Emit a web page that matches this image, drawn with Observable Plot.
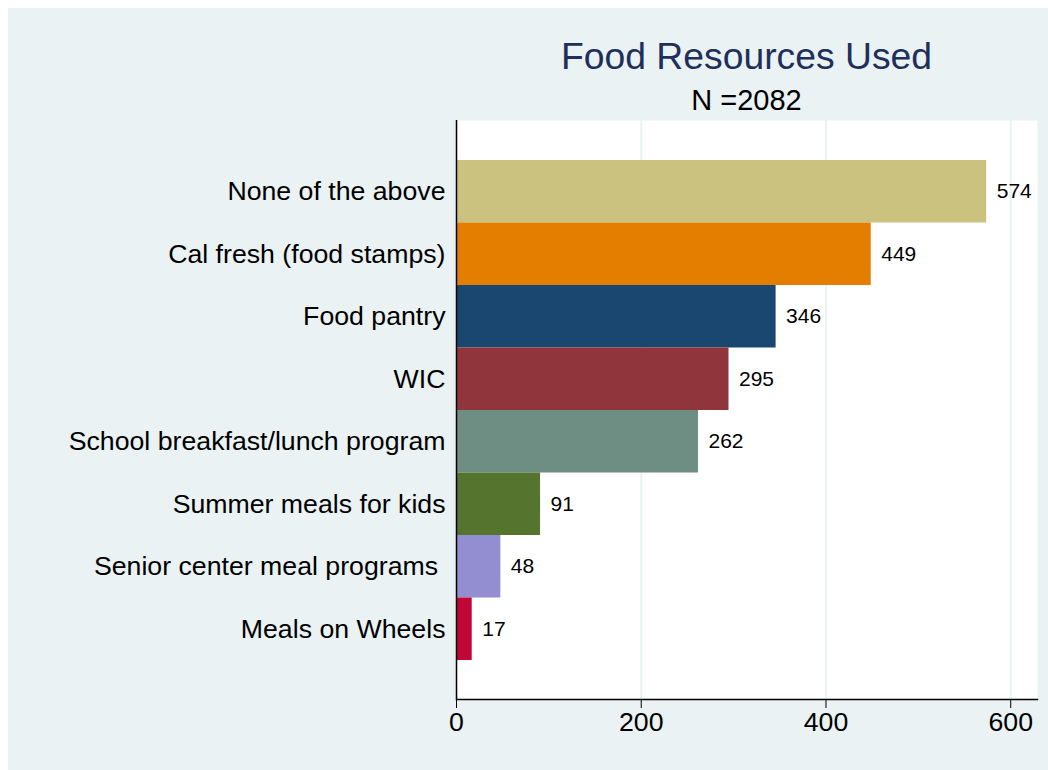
<!DOCTYPE html>
<html>
<head>
<meta charset="utf-8">
<script src="https://cdn.jsdelivr.net/npm/d3@7"></script>
<script src="https://cdn.jsdelivr.net/npm/@observablehq/plot@0.6"></script>
<style>
  html, body { margin: 0; padding: 0; background: #ffffff; }
  body { font-family: "Liberation Sans", Arial, Helvetica, sans-serif; }
  #page { position: relative; width: 1048px; height: 770px; background: #ffffff; overflow: hidden; }
  #bg { position: absolute; left: 8px; top: 8px; width: 1040px; height: 762px; background: #EAF2F3; }
  .ttl { position: absolute; left: 456px; width: 581px; text-align: center; line-height: 1; white-space: nowrap; }
  #title { top: 38px; font-size: 37.3px; color: #1F2F5C; }
  #subtitle { top: 86px; font-size: 29px; color: #000000; }
  #chart { position: absolute; left: 0; top: 120px; }
  #chart svg text { white-space: pre; }
</style>
</head>
<body>
<div id="page">
  <div id="bg"></div>
  <div id="title" class="ttl">Food Resources Used</div>
  <div id="subtitle" class="ttl">N =2082</div>
  <div id="chart"></div>
</div>
<script>
const categories = [
  "None of the above",
  "Cal fresh (food stamps)",
  "Food pantry",
  "WIC",
  "School breakfast/lunch program",
  "Summer meals for kids",
  "Senior center meal programs ",
  "Meals on Wheels"
];
const counts = [574, 449, 346, 295, 262, 91, 48, 17];
const barColors = ["#CAC27E", "#E37E00", "#1A476F", "#90353B", "#6E8E84", "#55752F", "#938DD2", "#C10534"];
const xTicks = [0, 200, 400, 600];

const data = categories.map((c, i) => ({category: c, value: counts[i]}));

const chart = Plot.plot({
  width: 1048,
  height: 650,
  marginTop: 0,
  marginBottom: 71,
  marginLeft: 456,
  marginRight: 11,
  style: {background: "transparent", overflow: "visible", fontFamily: "'Liberation Sans', Arial, Helvetica, sans-serif", color: "#000"},
  x: {domain: [0, 629], ticks: xTicks},
  y: {type: "band", domain: categories, padding: 0, round: false, insetTop: 40, insetBottom: 39},
  color: {domain: categories, range: barColors},
  marks: [
    Plot.frame({fill: "white", stroke: "none"}),
    Plot.gridX(xTicks, {stroke: "#EAF2F3", strokeWidth: 2, strokeOpacity: 1}),
    Plot.barX(data, {x: "value", y: "category", fill: "category", inset: 0}),
    Plot.text(data, {x: "value", y: "category", text: d => String(d.value), dx: 10, textAnchor: "start", fontSize: 21, fill: "#000"}),
    Plot.ruleX([0], {stroke: "#000", strokeWidth: 1.5}),
    Plot.frame({anchor: "bottom", stroke: "#000", strokeWidth: 1.5}),
    Plot.axisX({ticks: xTicks, tickSize: 9, tickPadding: 4, fontSize: 26.7, label: null, stroke: "#000"}),
    Plot.axisY({tickSize: 0, tickPadding: 11, fontSize: 26.7, label: null})
  ]
});
document.getElementById("chart").appendChild(chart);
</script>
</body>
</html>
